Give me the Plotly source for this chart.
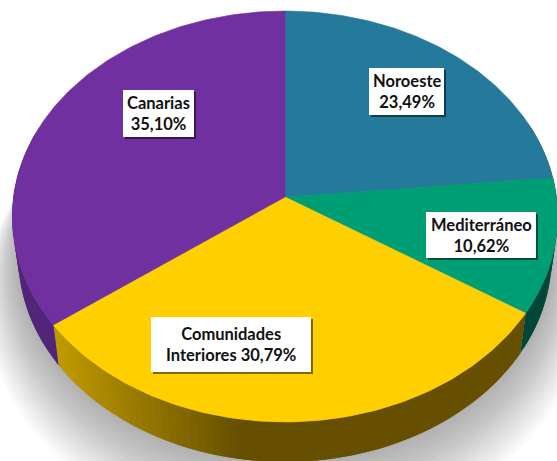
import numpy as np
import plotly.graph_objects as go

# ---- data ----
categories = ["Noroeste", "Mediterráneo", "Comunidades Interiores", "Canarias"]
values = [23.49, 10.62, 30.79, 35.10]
label_lines = [["Noroeste", "23,49%"], ["Mediterráneo", "10,62%"],
               ["Comunidades", "Interiores 30,79%"], ["Canarias", "35,10%"]]
top_colors = ["#25799a", "#009e75", "#ffcf00", "#7030a0"]
side_colors = ["#14435a", "#00473a", "#665000", "#50257a"]
label_boxes = [(369, 68, 444, 115), (426, 212, 536, 258), (151, 317, 311, 372), (123, 90, 194, 137)]

W, H = 557, 461
CX, CY, RX, RY, K = 285.0, 197.0, 271.5, 203.6, 0.0949
DEPTH, BASE_SCALE = 40.0, 0.978


def project(theta, lower=False, grow=0.0):
    """Perspective projection of a pie-disc rim angle (clockwise from 12 o'clock)."""
    u, v = np.sin(theta), np.cos(theta)
    w = 1 + K * v
    x, y = RX * u / w, -RY * v / w
    if lower:
        x = x * BASE_SCALE
        y = y + DEPTH
    if grow:
        x = x * (1 + grow / RX)
        y = y * (1 + grow / RY) + grow
    return CX + x, CY + y


def mix(a, b, t):
    ca = [int(a[i:i + 2], 16) for i in (1, 3, 5)]
    cb = [int(b[i:i + 2], 16) for i in (1, 3, 5)]
    return "#%02x%02x%02x" % tuple(round(p + (q - p) * t) for p, q in zip(ca, cb))


fig = go.Figure()


def poly(x, y, fill, line=None):
    fig.add_trace(go.Scatter(
        x=x, y=y, mode="lines", fill="toself", fillcolor=fill,
        line=dict(color=line or "rgba(0,0,0,0)", width=0.6 if line else 0),
        hoverinfo="skip", showlegend=False))


# soft drop shadow
full = np.linspace(0, 2 * np.pi, 241)
for g in np.linspace(34, 1, 17):
    sx, sy = project(full, lower=True, grow=float(g))
    poly(sx, sy, "rgba(0,0,0,0.02)")

# slice angle limits come straight from the values
fractions = np.array(values) / sum(values)
edges = np.concatenate([[0], np.cumsum(fractions)]) * 2 * np.pi

# rim: each strip reaches back over the previous one so no seams show
for i in range(len(values)):
    a0, a1 = edges[i], edges[i + 1]
    steps = max(2, int((a1 - a0) / np.radians(1.5)))
    grid = np.linspace(a0, a1, steps + 1)
    for j in range(steps):
        if np.cos(grid[j]) > 0.35 and np.cos(grid[j + 1]) > 0.35:
            continue
        t0, t1 = grid[max(j - 1, 0)], grid[j + 1]
        mid = np.linspace(t0, t1, 4)
        tx, ty = project(mid)
        bx, by = project(mid[::-1], lower=True)
        col = side_colors[i]
        if categories[i].startswith("Comunidades"):
            # lit at its left end, fading to the dark tone towards the front
            frac = np.clip((project(np.array([t1]))[0][0] - 55) / 170, 0, 1)
            col = mix("#bd9800", side_colors[i], float(frac))
        poly(list(tx) + list(bx) + [tx[0]], list(ty) + list(by) + [ty[0]], col)

# top face
for i in range(len(values)):
    grid = np.linspace(edges[i], edges[i + 1], 120)
    px, py = project(grid)
    poly([CX] + list(px) + [CX], [CY] + list(py) + [CY], top_colors[i], top_colors[i])

# label boxes + text
shapes = []
annotations = []
for (x0, y0, x1, y1), lines in zip(label_boxes, label_lines):
    shapes.append(dict(type="rect", xref="x", yref="y", x0=x0 + 2, y0=y0 + 2, x1=x1 + 2, y1=y1 + 2,
                       fillcolor="rgba(0,0,0,0.5)", line_width=0))
    shapes.append(dict(type="rect", xref="x", yref="y", x0=x0, y0=y0, x1=x1, y1=y1,
                       fillcolor="#ffffff", line_width=0))
    annotations.append(dict(
        x=(x0 + x1) / 2, y=(y0 + y1) / 2, xref="x", yref="y", showarrow=False,
        text="<br>".join(lines), align="center",
        font=dict(family="Lato", size=16.5, color="#111111", weight=700)))

fig.update_layout(
    width=W, height=H, margin=dict(l=0, r=0, t=0, b=0),
    paper_bgcolor="white", plot_bgcolor="white", showlegend=False,
    xaxis=dict(range=[0, W], visible=False, fixedrange=True),
    yaxis=dict(range=[H, 0], visible=False, fixedrange=True),
    shapes=shapes, annotations=annotations)

fig.write_html("out.html", config={"displayModeBar": False},
               post_script="document.body.style.margin='0';")
